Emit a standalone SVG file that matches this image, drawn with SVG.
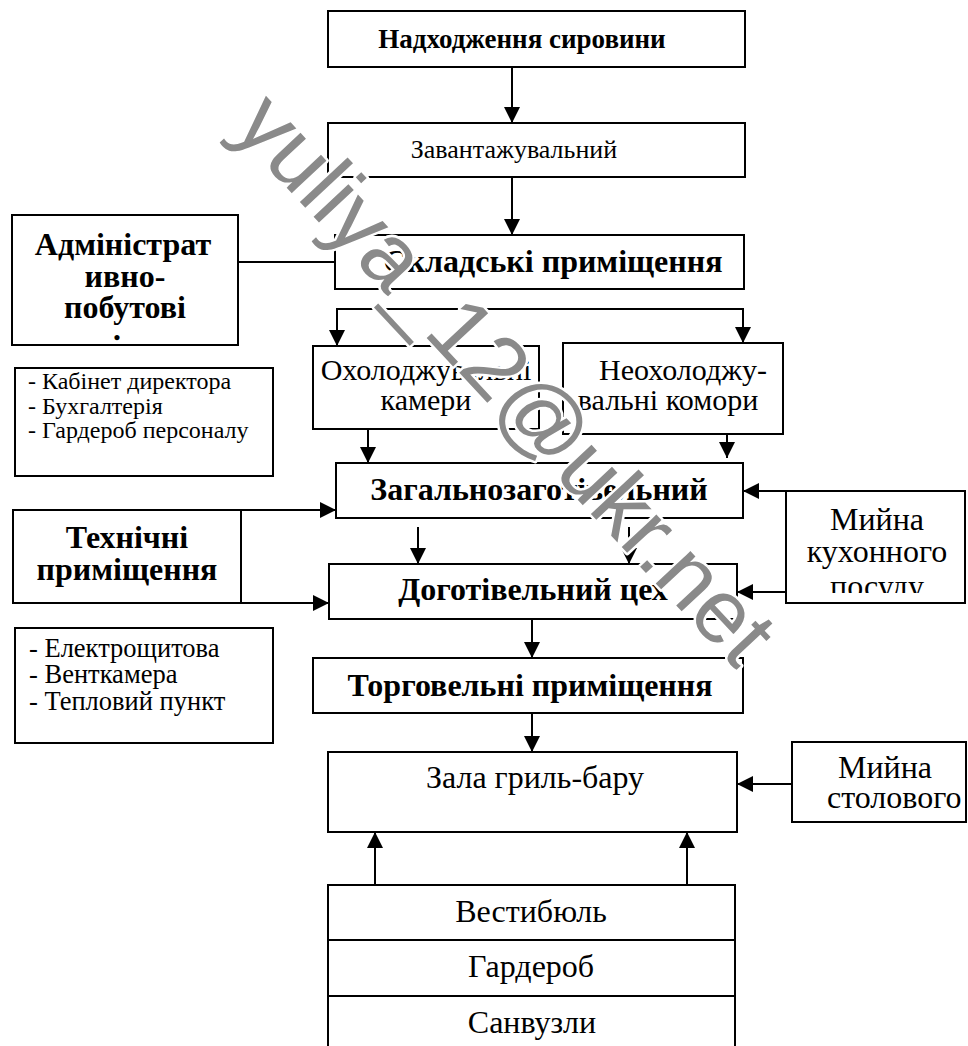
<svg xmlns="http://www.w3.org/2000/svg" width="968" height="1046" viewBox="0 0 968 1046">
<style>
.box{fill:#fff;stroke:#000;stroke-width:2}
.ln{fill:none;stroke:#000;stroke-width:2}
.b{font-family:"Liberation Serif","Times New Roman",serif;font-weight:bold;fill:#000;text-anchor:middle}
.r{font-family:"Liberation Serif","Times New Roman",serif;fill:#000;text-anchor:middle}
.l{font-family:"Liberation Serif","Times New Roman",serif;fill:#000}
.wm{font-family:"Liberation Sans",Arial,sans-serif;font-size:90px;fill:#8a8a8a;stroke:#fff;stroke-width:5;paint-order:stroke;stroke-linejoin:round}
</style>
<defs>
<marker id="ah" markerUnits="userSpaceOnUse" markerWidth="16" markerHeight="16" viewBox="0 0 16 16" refX="16" refY="8" orient="auto">
<path d="M0,0 L16,8 L0,16 z" fill="#000"/>
</marker>
<clipPath id="cpAdm"><rect x="12" y="215" width="226" height="129"/></clipPath>
<clipPath id="cpKux"><rect x="786" y="491" width="179" height="102"/></clipPath>
</defs>
<rect width="968" height="1046" fill="#fff"/>
<g id="n-nadkh"><rect class="box" x="328" y="11" width="417" height="56"/><text class="b" x="522" y="48" font-size="27">Надходження сировини</text></g>
<g id="n-zavant"><rect class="box" x="328" y="123" width="417" height="54"/><text class="r" x="514" y="158" font-size="26">Завантажувальний</text></g>
<g id="n-sklad"><rect class="box" x="335" y="235" width="409" height="54"/><text class="b" x="553" y="272" font-size="32">Складські приміщення</text></g>
<g id="n-admin"><rect class="box" x="12" y="215" width="226" height="130"/>
<g clip-path="url(#cpAdm)"><text class="b" font-size="32"><tspan x="123" y="255">Адміністрат</tspan><tspan x="125" y="287">ивно-</tspan><tspan x="125" y="318">побутові</tspan><tspan x="117" y="350">:</tspan></text></g></g>
<g id="n-kabinet"><rect class="box" x="15" y="368" width="258" height="108"/><text class="l" font-size="24"><tspan x="28" y="389">- Кабінет директора</tspan><tspan x="28" y="414">- Бухгалтерія</tspan><tspan x="28" y="438">- Гардероб персоналу</tspan></text></g>
<g id="n-okhol"><rect class="box" x="313" y="346" width="226" height="83"/><text class="r" font-size="30"><tspan x="426" y="380">Охолоджувальні</tspan><tspan x="426" y="410">камери</tspan></text></g>
<g id="n-neokhol"><rect class="box" x="563" y="343" width="220" height="91"/><text class="r" font-size="30"><tspan x="683" y="380">Неохолоджу-</tspan><tspan x="668" y="410">вальні комори</tspan></text></g>
<g id="n-zagal"><rect class="box" x="336" y="463" width="407" height="55"/><text class="b" x="539" y="500" font-size="32">Загальнозаготівельний</text></g>
<g id="n-tekhn"><rect class="box" x="13" y="510" width="228" height="93"/><text class="b" font-size="32"><tspan x="127" y="548">Технічні</tspan><tspan x="127" y="580">приміщення</tspan></text></g>
<g id="n-myina-kukh"><rect class="box" x="786" y="491" width="179" height="112"/>
<g clip-path="url(#cpKux)"><text class="r" font-size="32"><tspan x="877" y="530">Мийна</tspan><tspan x="877" y="562">кухонного</tspan><tspan x="877" y="597">посуду</tspan></text></g></g>
<g id="n-dogot"><rect class="box" x="329" y="564" width="408" height="55"/><text class="b" x="533" y="600" font-size="32">Доготівельний цех</text></g>
<g id="n-elektro"><rect class="box" x="15" y="628" width="258" height="115"/><text class="l" font-size="26.5"><tspan x="29" y="657">- Електрощитова</tspan><tspan x="29" y="683">- Венткамера</tspan><tspan x="29" y="710">- Тепловий пункт</tspan></text></g>
<g id="n-torg"><rect class="box" x="313" y="658" width="430" height="55"/><text class="b" x="530" y="696" font-size="32">Торговельні приміщення</text></g>
<g id="n-zala"><rect class="box" x="328" y="752" width="409" height="80"/><text class="r" x="535" y="788" font-size="32">Зала гриль-бару</text></g>
<g id="n-myina-stol"><rect class="box" x="792" y="742" width="174" height="80"/><text class="l" font-size="32"><tspan x="838" y="778">Мийна</tspan><tspan x="827" y="808">столового</tspan></text></g>
<g id="n-vestyb"><rect class="box" x="328" y="885" width="407" height="55"/><text class="r" x="531" y="922" font-size="32">Вестибюль</text></g>
<g id="n-garderob"><rect class="box" x="328" y="940" width="407" height="56"/><text class="r" x="531" y="977" font-size="32">Гардероб</text></g>
<g id="n-sanvuzly"><rect class="box" x="328" y="996" width="407" height="60"/><text class="r" x="532" y="1033" font-size="32">Санвузли</text></g>
<g id="connectors">
<path class="ln" d="M512,67 V123" marker-end="url(#ah)"/>
<path class="ln" d="M512,177 V235" marker-end="url(#ah)"/>
<path class="ln" d="M238,262 H335"/>
<path class="ln" d="M540,309 H337 V346" marker-end="url(#ah)"/>
<path class="ln" d="M540,309 H743 V343" marker-end="url(#ah)"/>
<path class="ln" d="M368,429 V463" marker-end="url(#ah)"/>
<path class="ln" d="M727,434 V458" marker-end="url(#ah)"/>
<path class="ln" d="M241,510 H336" marker-end="url(#ah)"/>
<path class="ln" d="M241,603 H329" marker-end="url(#ah)"/>
<path class="ln" d="M873,491 H743" marker-end="url(#ah)"/>
<path class="ln" d="M786,592 H737" marker-end="url(#ah)"/>
<path class="ln" d="M418,527 V564" marker-end="url(#ah)"/>
<path class="ln" d="M629,527 V564" marker-end="url(#ah)"/>
<path class="ln" d="M532,619 V658" marker-end="url(#ah)"/>
<path class="ln" d="M532,713 V752" marker-end="url(#ah)"/>
<path class="ln" d="M792,784 H737" marker-end="url(#ah)"/>
<path class="ln" d="M375,885 V832" marker-end="url(#ah)"/>
<path class="ln" d="M687,885 V832" marker-end="url(#ah)"/>
</g>
<text class="wm" transform="translate(231,128) rotate(47)">yuliya_12@ukr.net</text>
</svg>
